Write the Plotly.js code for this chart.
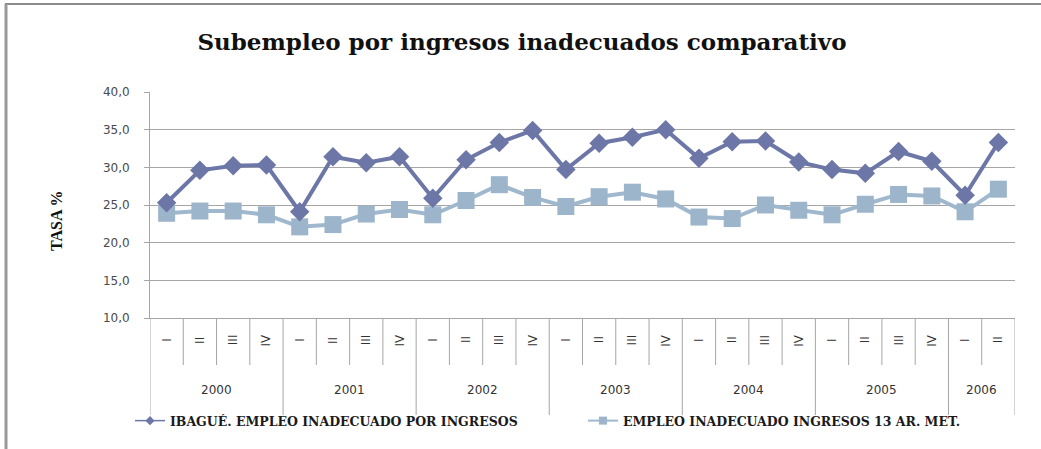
<!DOCTYPE html>
<html>
<head>
<meta charset="utf-8">
<script src="https://cdn.plot.ly/plotly-3.0.1.min.js"></script>
<style>
  html, body { margin: 0; padding: 0; background: #ffffff; }
  #chart { width: 1041px; height: 449px; }
</style>
</head>
<body>
<div id="chart"></div>
<script>
// ---- data ----
const periodYears = ['2000','2000','2000','2000','2001','2001','2001','2001','2002','2002','2002','2002',
                     '2003','2003','2003','2003','2004','2004','2004','2004','2005','2005','2005','2005',
                     '2006','2006'];
const periodQuarters = ['I','II','III','IV','I','II','III','IV','I','II','III','IV',
                        'I','II','III','IV','I','II','III','IV','I','II','III','IV',
                        'I','II'];
const ibagueName = 'IBAGUÉ. EMPLEO INADECUADO POR INGRESOS';
const ibague = [25.3, 29.6, 30.2, 30.3, 24.1, 31.4, 30.6, 31.4, 25.9, 31.0, 33.3, 34.9,
                29.7, 33.2, 34.0, 35.0, 31.2, 33.4, 33.5, 30.7, 29.7, 29.2, 32.1, 30.8,
                26.3, 33.3];
const areasName = 'EMPLEO INADECUADO INGRESOS 13 AR. MET.';
const areas13 = [23.9, 24.2, 24.2, 23.7, 22.1, 22.4, 23.8, 24.4, 23.7, 25.6, 27.7, 26.0,
                 24.8, 26.1, 26.7, 25.8, 23.4, 23.2, 25.0, 24.3, 23.7, 25.1, 26.4, 26.2,
                 24.1, 27.1];
const chartTitle = 'Subempleo por ingresos inadecuados comparativo';
const yTitle = 'TASA %';

// ---- styling ----
const darkColor = '#6c77a7';
const lightColor = '#a0b8ce';
const idx = periodQuarters.map((_, i) => i);

const traces = [
  { x: idx, y: areas13, type: 'scatter', mode: 'lines+markers', name: areasName, showlegend: false,
    line: { color: lightColor, width: 4 }, marker: { symbol: 'square', size: 17, color: '#9db5cb' } },
  { x: idx, y: ibague, type: 'scatter', mode: 'lines+markers', name: ibagueName, showlegend: false,
    line: { color: darkColor, width: 4 }, marker: { symbol: 'diamond', size: 15, color: darkColor } },
  // legend entries (small symbols like the reference legend)
  { x: [null], y: [null], type: 'scatter', mode: 'lines+markers', name: '<b>' + ibagueName + '</b>',
    legend: 'legend',
    line: { color: darkColor, width: 1.5 }, marker: { symbol: 'diamond', size: 7, color: darkColor } },
  { x: [null], y: [null], type: 'scatter', mode: 'lines+markers', name: '<b>' + areasName + '</b>',
    legend: 'legend2',
    line: { color: lightColor, width: 2 }, marker: { symbol: 'square', size: 8, color: '#9db5cb' } }
];

const L = 150, R = 1015, T = 92, B = 318, W = 1041, H = 449;
const px2x = p => (p - L) / (R - L);
const py2y = p => (B - p) / (B - T);

const shapes = [];
const annotations = [];
const gridGray = '#a6a6a6';

// category dividers
for (let i = 0; i <= periodQuarters.length; i++) {
  const yearBoundary = (i === 0 || i === periodQuarters.length || periodYears[i] !== periodYears[i - 1]);
  shapes.push({ type: 'line', xref: 'x', yref: 'paper', x0: i - 0.5, x1: i - 0.5,
    y0: 0, y1: yearBoundary ? py2y(415) : py2y(365),
    line: { color: gridGray, width: 1 } });
}
// quarter labels
periodQuarters.forEach((q, i) => {
  annotations.push({ x: i, xref: 'x', y: py2y(340), yref: 'paper', text: q, showarrow: false,
    textangle: -90, xanchor: 'center', yanchor: 'middle',
    font: { family: 'DejaVu Sans', size: 12, color: '#333333' } });
});
// year labels
const years = [...new Set(periodYears)];
years.forEach(yr => {
  const members = idx.filter(i => periodYears[i] === yr);
  const cx = (members[0] + members[members.length - 1]) / 2;
  annotations.push({ x: cx, xref: 'x', y: py2y(390), yref: 'paper', text: yr, showarrow: false,
    xanchor: 'center', yanchor: 'middle',
    font: { family: 'DejaVu Sans', size: 12, color: '#333333' } });
});
// y axis title
annotations.push({ x: px2x(56), xref: 'paper', y: py2y(221), yref: 'paper', text: '<b>' + yTitle + '</b>',
  showarrow: false, textangle: -90, xanchor: 'center', yanchor: 'middle',
  font: { family: 'Liberation Serif', size: 16, color: '#111111' } });

// outer frame (top and left edges)
shapes.push({ type: 'line', xref: 'paper', yref: 'paper', x0: px2x(5), x1: px2x(1041), y0: py2y(4), y1: py2y(4),
  line: { color: '#8c8c8c', width: 2 } });
shapes.push({ type: 'line', xref: 'paper', yref: 'paper', x0: px2x(6), x1: px2x(6), y0: py2y(4), y1: py2y(449),
  line: { color: '#999999', width: 3 } });

const legendFont = { family: 'DejaVu Serif', size: 12.5, color: '#1a1a1a' };

const layout = {
  width: W, height: H,
  margin: { l: L, r: W - R, t: T, b: H - B, pad: 0 },
  paper_bgcolor: '#ffffff', plot_bgcolor: '#ffffff',
  separators: ',.',
  title: { text: '<b>' + chartTitle + '</b>', x: 522 / W, xref: 'container', xanchor: 'center',
    y: 1 - 42 / H, yref: 'container', yanchor: 'middle',
    font: { family: 'DejaVu Serif', size: 23, color: '#111111' } },
  xaxis: { range: [-0.5, periodQuarters.length - 0.5], showgrid: false, zeroline: false,
    showticklabels: false, ticks: '', showline: true, linecolor: gridGray, linewidth: 1, fixedrange: true },
  yaxis: { range: [10, 40], dtick: 5, tick0: 10, tickformat: '.1f', showgrid: true, gridcolor: gridGray,
    gridwidth: 1, zeroline: false, showline: true, linecolor: gridGray, linewidth: 1,
    ticks: 'outside', ticklen: 5, tickcolor: gridGray, ticklabelstandoff: 12,
    tickfont: { family: 'DejaVu Sans', size: 12, color: '#4a4a4a' }, fixedrange: true },
  legend: { orientation: 'h', x: px2x(130), xanchor: 'left', y: py2y(421), yanchor: 'middle',
    bgcolor: 'rgba(0,0,0,0)', font: legendFont },
  legend2: { orientation: 'h', x: px2x(583), xanchor: 'left', y: py2y(421), yanchor: 'middle',
    bgcolor: 'rgba(0,0,0,0)', font: legendFont },
  shapes: shapes,
  annotations: annotations,
  showlegend: true
};

Plotly.newPlot('chart', traces, layout, { displayModeBar: false, staticPlot: true });
</script>
</body>
</html>
